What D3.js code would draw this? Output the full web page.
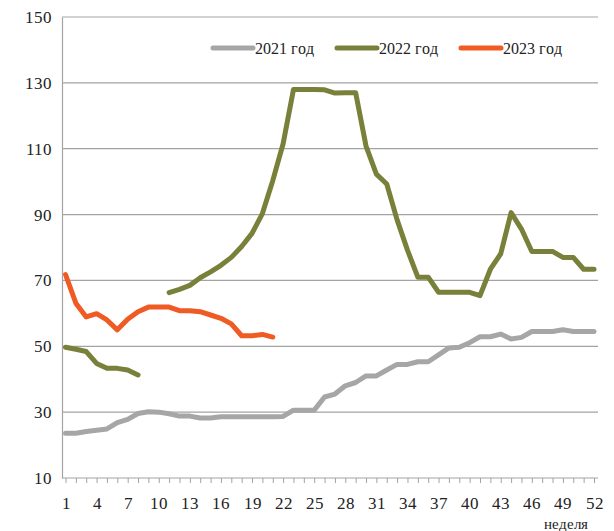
<!DOCTYPE html>
<html><head><meta charset="utf-8">
<script src="https://cdn.jsdelivr.net/npm/d3@7"></script>
<style>
@font-face{font-family:"ChartSerif";src:local("Liberation Serif"),local("LiberationSerif"),local("LiberationSerif-Regular"),local("Times New Roman"),local("DejaVu Serif");}
body{margin:0;background:#fff}svg{display:block}
svg text{font-family:"ChartSerif","Liberation Serif","Times New Roman",Times,serif !important}
</style>
</head><body>
<script>
const weeks = d3.range(1, 53);
const yTicks = [10, 30, 50, 70, 90, 110, 130, 150];
const xTickLabels = [1, 4, 7, 10, 13, 16, 19, 22, 25, 28, 31, 34, 37, 40, 43, 46, 49, 52];
const seriesNames = ["2021 год", "2022 год", "2023 год"];
const colors = ["#a6a6a8", "#78803a", "#f05a23"];

const v2021 = [23.6, 23.6, 24.1, 24.5, 24.9, 26.8, 27.8, 29.6, 30.1, 30.0, 29.5, 28.8, 28.8, 28.2, 28.2, 28.6, 28.6, 28.6, 28.6, 28.6, 28.6, 28.7, 30.6, 30.6, 30.6, 34.6, 35.5, 38.0, 39.0, 41.0, 41.0, 42.8, 44.5, 44.5, 45.3, 45.3, 47.4, 49.5, 49.7, 51.1, 52.9, 52.9, 53.7, 52.2, 52.7, 54.5, 54.5, 54.5, 55.0, 54.5, 54.5, 54.5];
const v2022 = [49.7, 49.1, 48.4, 44.8, 43.3, 43.3, 42.8, 41.3, null, null, 66.3, 67.3, 68.5, 70.8, 72.6, 74.6, 77.0, 80.3, 84.3, 90.3, 100.3, 111.5, 128.0, 128.0, 128.0, 127.9, 126.9, 127.0, 127.0, 110.8, 102.3, 99.3, 88.4, 79.2, 71.0, 71.0, 66.4, 66.4, 66.4, 66.4, 65.4, 73.4, 78.1, 90.6, 85.6, 78.8, 78.8, 78.8, 77.0, 77.0, 73.4, 73.4];
const v2023 = [71.8, 63.1, 58.9, 59.9, 58.0, 55.0, 58.2, 60.5, 61.9, 61.9, 61.9, 60.8, 60.8, 60.5, 59.5, 58.5, 56.8, 53.2, 53.2, 53.6, 52.8];
const seriesValues = [v2021, v2022, v2023];

const W = 614, H = 531;
const svg = d3.select("body").append("svg").attr("width", W).attr("height", H)
  .attr("font-family", "Liberation Serif, Times New Roman, serif");
const pL = 62, pR = 598, pT = 17, pB = 478;
const x = d3.scaleLinear().domain([1, 52]).range([65.5, 594]);
const y = d3.scaleLinear().domain([10, 150]).range([pB, pT]);

// gridlines
svg.append("g").selectAll("line").data(yTicks.filter(d => d > 10)).join("line")
  .attr("x1", pL).attr("x2", pR)
  .attr("y1", d => y(d)).attr("y2", d => y(d))
  .attr("stroke", "#a3a3a3").attr("stroke-width", 1.2);

// y axis
const yAxis = d3.axisLeft(y).tickValues(yTicks).tickSize(0).tickPadding(10);
const gy = svg.append("g").attr("transform", `translate(${pL},0)`).call(yAxis);
gy.attr("font-family", null);
gy.select(".domain").attr("stroke", "#a3a3a3").attr("stroke-width", 1.2);
gy.selectAll("text").attr("font-size", 17).attr("fill", "#222");

// x axis
const xAxis = d3.axisBottom(x).tickValues(weeks).tickSize(5).tickFormat(d => xTickLabels.includes(d) ? d : "").tickPadding(14);
const gx = svg.append("g").attr("transform", `translate(0,${pB})`).call(xAxis);
gx.attr("font-family", null);
gx.select(".domain").attr("d", `M${pL},0H${pR}`).attr("stroke", "#a3a3a3").attr("stroke-width", 1.2);
gx.selectAll(".tick line").attr("stroke", "#a3a3a3");
gx.selectAll("text").attr("font-size", 17).attr("fill", "#222");

svg.append("text").attr("x", 566).attr("y", 529).attr("text-anchor", "middle")
  .attr("font-size", 15).attr("fill", "#222").text("неделя");

// lines
const line = d3.line().defined(d => d[1] != null).x(d => x(d[0])).y(d => y(d[1]));
seriesValues.forEach((vals, i) => {
  svg.append("path").datum(vals.map((v, k) => [weeks[k], v]))
    .attr("d", line).attr("fill", "none").attr("stroke", colors[i])
    .attr("stroke-width", 5).attr("stroke-linejoin", "round").attr("stroke-linecap", "round");
});

// legend
const legendX = [213, 337, 461];
seriesNames.forEach((n, i) => {
  const g = svg.append("g");
  g.append("line").attr("x1", legendX[i]).attr("x2", legendX[i] + 40).attr("y1", 48).attr("y2", 48)
    .attr("stroke", colors[i]).attr("stroke-width", 5).attr("stroke-linecap", "round");
  g.append("text").attr("x", legendX[i] + 42).attr("y", 54)
    .attr("font-size", 16).attr("fill", "#222").text(n);
});
</script>
</body></html>
